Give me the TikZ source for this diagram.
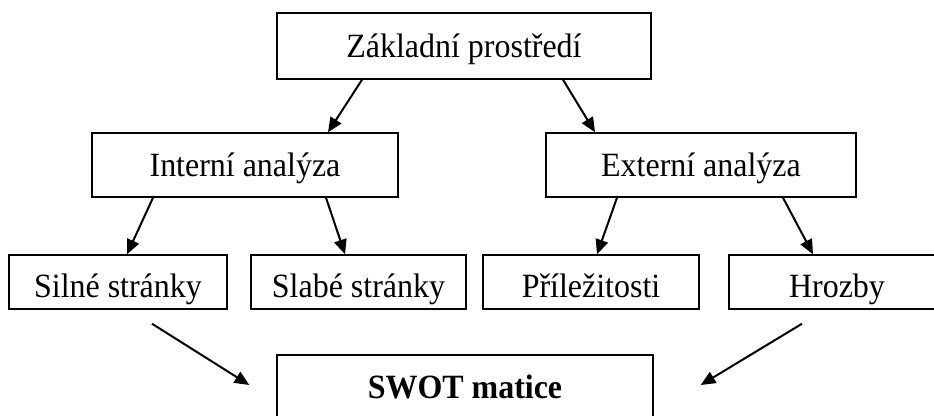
\documentclass[tikz,border=0pt]{standalone}
\usepackage{fontspec}
\setmainfont[FakeStretch=0.94]{Liberation Serif}
\usetikzlibrary{arrows.meta, calc}

\begin{document}
\begin{tikzpicture}[
  x=0.75pt, y=-0.75pt,
  font=\fontsize{25.5}{30}\selectfont,
  box/.style={draw, line width=1.1pt, inner sep=0pt, minimum height=48pt,
              text height=22pt, text depth=5pt, align=center},
  small/.style={box, minimum height=40.5pt, text height=27pt, text depth=4pt},
  flow/.style={-{Triangle[length=11pt, width=9.5pt]}, line width=1.5pt}
]
  \useasboundingbox (0,0) rectangle (934,416);
  \clip (0,0) rectangle (934,416);

  \node[box, minimum width=280.5pt, minimum height=49.5pt] (zaklad) at (464,46) {Základní prostředí};
  \node[box, minimum width=229.5pt] (interni) at (245,165) {Interní analýza};
  \node[box, minimum width=232.5pt] (externi) at (701,165) {Externí analýza};

  \node[small, minimum width=163.5pt]  (silne)  at (118,282)   {Silné stránky};
  \node[small, minimum width=161.25pt] (slabe)  at (358.5,282) {Slabé stránky};
  \node[small, minimum width=162pt]    (prilez) at (591,282)   {Příležitosti};
  \node[small, minimum width=162pt]    (hrozby) at (837,282)   {Hrozby};

  \node[box, minimum width=282pt] (swot) at (465,387) {\textbf{SWOT matice}};

  % first level
  \draw[flow] ($(zaklad.south)+(-102,0)$) -- ($(interni.north)+(83,0)$);
  \draw[flow] ($(zaklad.south)+(99,0)$)   -- ($(externi.north)+(-106,0)$);

  % second level
  \draw[flow] ($(interni.south)+(-92,0)$) -- ($(silne.north)+(9,0)$);
  \draw[flow] ($(interni.south)+(81,0)$)  -- ($(slabe.north)+(-13.5,0)$);
  \draw[flow] ($(externi.south)+(-84,0)$) -- ($(prilez.north)+(6,0)$);
  \draw[flow] ($(externi.south)+(82,0)$)  -- ($(hrozby.north)+(-24,0)$);

  % into the matrix
  \draw[flow] ($(silne.south)+(34,14)$)   -- ($(swot.west)+(-27,-2)$);
  \draw[flow] ($(hrozby.south)+(-35,14)$) -- ($(swot.east)+(47,-2)$);
\end{tikzpicture}
\end{document}
